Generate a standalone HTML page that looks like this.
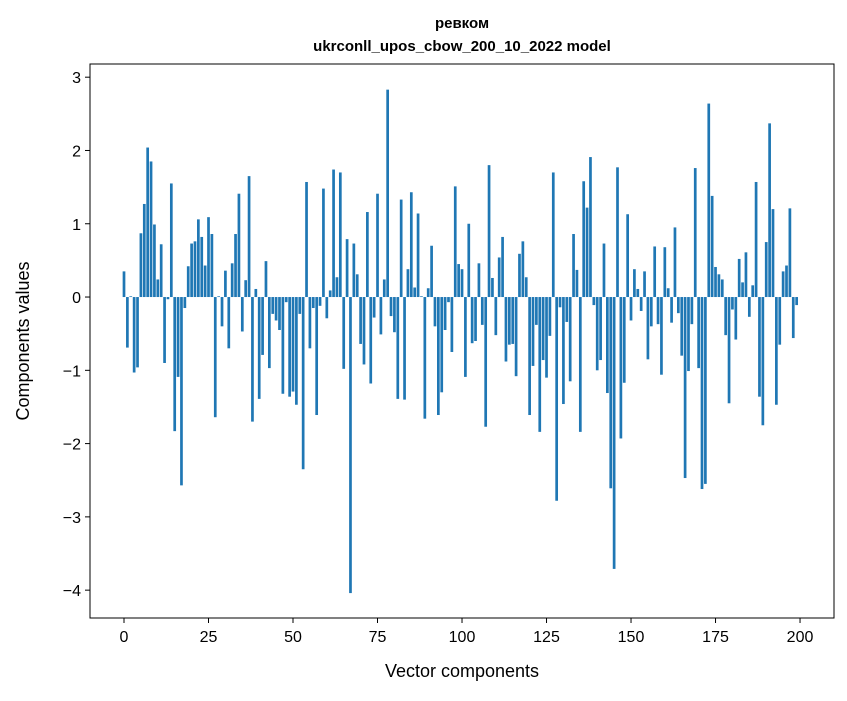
<!DOCTYPE html>
<html><head><meta charset="utf-8"><style>
body{margin:0;background:#fff;}
svg text{font-family:"Liberation Sans","DejaVu Sans",sans-serif;}
</style></head><body>
<svg id="chart" width="847" height="696" xmlns="http://www.w3.org/2000/svg">
<rect width="847" height="696" fill="#fff"/>
<text x="462" y="28" text-anchor="middle" font-size="15" font-weight="bold">ревком</text>
<text x="462" y="51" text-anchor="middle" font-size="15" font-weight="bold">ukrconll_upos_cbow_200_10_2022 model</text>
<g id="bars"></g>
<g id="axes"></g>
<rect x="90" y="64" width="744" height="554" fill="none" stroke="#000" stroke-width="1"/>
<text x="462" y="677" text-anchor="middle" font-size="18">Vector components</text>
<text transform="translate(29,341) rotate(-90)" text-anchor="middle" font-size="18">Components values</text>
</svg>
<script>
const values = [0.35,-0.69,0.01,-1.03,-0.96,0.87,1.27,2.04,1.85,0.99,
0.24,0.72,-0.90,-0.03,1.55,-1.83,-1.09,-2.57,-0.15,0.42,
0.73,0.76,1.06,0.82,0.43,1.09,0.86,-1.64,0.01,-0.40,
0.36,-0.70,0.46,0.86,1.41,-0.47,0.23,1.65,-1.70,0.11,
-1.39,-0.79,0.49,-0.97,-0.23,-0.32,-0.45,-1.32,-0.07,-1.36,
-1.29,-1.47,-0.23,-2.35,1.57,-0.70,-0.15,-1.61,-0.12,1.48,
-0.29,0.09,1.74,0.27,1.70,-0.98,0.79,-4.04,0.73,0.31,
-0.64,-0.92,1.16,-1.18,-0.28,1.41,-0.51,0.24,2.83,-0.26,
-0.48,-1.39,1.33,-1.40,0.38,1.43,0.13,1.14,0.01,-1.66,
0.12,0.70,-0.40,-1.61,-1.30,-0.45,-0.07,-0.75,1.51,0.45,
0.38,-1.09,1.00,-0.63,-0.60,0.46,-0.38,-1.77,1.80,0.26,
-0.52,0.54,0.82,-0.88,-0.65,-0.64,-1.08,0.59,0.76,0.27,
-1.61,-0.94,-0.38,-1.84,-0.86,-1.10,-0.53,1.70,-2.78,-0.14,
-1.46,-0.34,-1.15,0.86,0.37,-1.84,1.58,1.22,1.91,-0.11,
-1.00,-0.86,0.73,-1.31,-2.61,-3.71,1.77,-1.93,-1.17,1.13,
-0.32,0.38,0.11,-0.19,0.35,-0.85,-0.40,0.69,-0.37,-1.06,
0.68,0.12,-0.35,0.95,-0.22,-0.80,-2.47,-1.01,-0.37,1.76,
-0.97,-2.62,-2.55,2.64,1.38,0.41,0.31,0.24,-0.52,-1.45,
-0.17,-0.58,0.52,0.20,0.61,-0.27,0.16,1.57,-1.36,-1.75,
0.75,2.37,1.20,-1.47,-0.65,0.35,0.43,1.21,-0.56,-0.11];
const xTicks = [0,25,50,75,100,125,150,175,200];
const yTicks = [3,2,1,0,-1,-2,-3,-4];
const NS='http://www.w3.org/2000/svg';
const X0=90,X1=834,Y0=64,Y1=618;
const xMin=-10.06,xMax=210.05,yMax=3.18,yMin=-4.38;
function xs(v){return X0+(v-xMin)/(xMax-xMin)*(X1-X0);}
function ys(v){return Y1-(v-yMin)/(yMax-yMin)*(Y1-Y0);}
const bars=document.getElementById('bars');
values.forEach((v,i)=>{
 const r=document.createElementNS(NS,'rect');
 const xa=xs(i-0.4),xb=xs(i+0.4);
 const y0=ys(0),yv=ys(v);
 r.setAttribute('x',xa);r.setAttribute('width',xb-xa);
 r.setAttribute('y',Math.min(y0,yv));r.setAttribute('height',Math.abs(yv-y0));
 r.setAttribute('fill','#1f77b4');
 
 
 bars.appendChild(r);
});
const axes=document.getElementById('axes');
xTicks.forEach(t=>{
 const l=document.createElementNS(NS,'line');
 l.setAttribute('x1',xs(t));l.setAttribute('x2',xs(t));l.setAttribute('y1',Y1);l.setAttribute('y2',Y1+5);
 l.setAttribute('stroke','#000');
 
 
 axes.appendChild(l);
 const tx=document.createElementNS(NS,'text');
 tx.setAttribute('x',xs(t));tx.setAttribute('y',Y1+24);tx.setAttribute('text-anchor','middle');tx.setAttribute('font-size','16');
 tx.textContent=t;
 
 
 axes.appendChild(tx);
});
yTicks.forEach(t=>{
 const l=document.createElementNS(NS,'line');
 l.setAttribute('x1',X0-5);l.setAttribute('x2',X0);l.setAttribute('y1',ys(t));l.setAttribute('y2',ys(t));
 l.setAttribute('stroke','#000');
 
 
 axes.appendChild(l);
 const tx=document.createElementNS(NS,'text');
 tx.setAttribute('x',X0-9);tx.setAttribute('y',ys(t)+6);tx.setAttribute('text-anchor','end');tx.setAttribute('font-size','16');
 tx.textContent=t<0?'\u2212'+(-t):String(t);
 
 
 axes.appendChild(tx);
});
</script>
</body></html>
